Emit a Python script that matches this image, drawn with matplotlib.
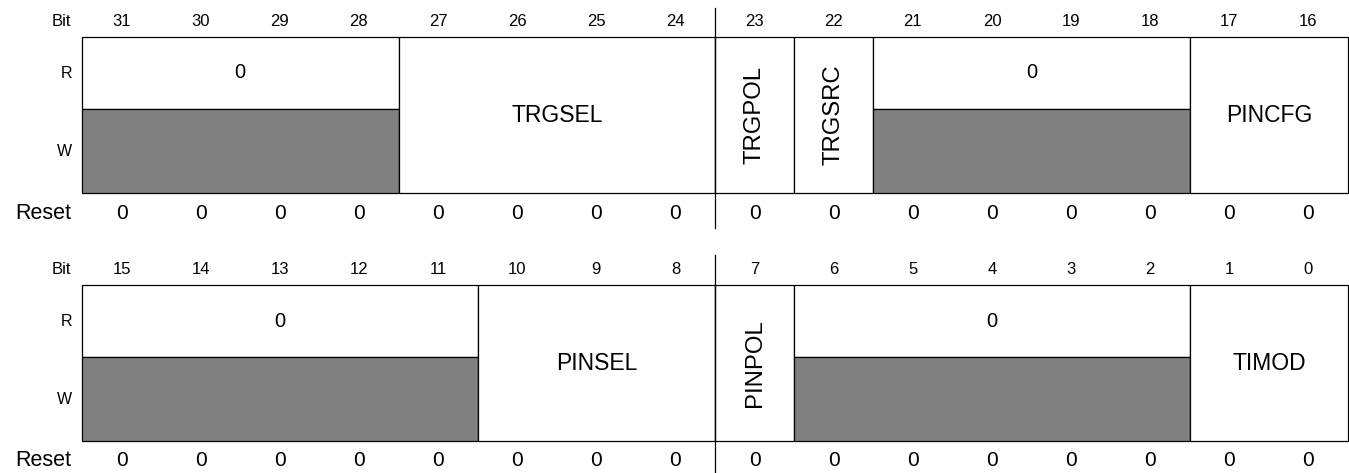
import matplotlib.pyplot as plt
import matplotlib.patches as mpatches

plt.rcParams['font.family'] = ['Liberation Sans', 'DejaVu Sans']

# register fields: (high bit, low bit, name, vertical, reserved)
fields_hi = [
    (31, 28, '0', False, True),
    (27, 24, 'TRGSEL', False, False),
    (23, 23, 'TRGPOL', True, False),
    (22, 22, 'TRGSRC', True, False),
    (21, 18, '0', False, True),
    (17, 16, 'PINCFG', False, False),
]
fields_lo = [
    (15, 11, '0', False, True),
    (10, 8, 'PINSEL', False, False),
    (7, 7, 'PINPOL', True, False),
    (6, 2, '0', False, True),
    (1, 0, 'TIMOD', False, False),
]
reset_hi = [0] * 16
reset_lo = [0] * 16

W, H = 1349, 473
col_w = 79.125
x0 = 82
gray = '#808080'
lw = 0.9

fig = plt.figure(figsize=(W / 100, H / 100), dpi=100)
ax = fig.add_axes([0, 0, 1, 1])
ax.set_xlim(0, W)
ax.set_ylim(H, 0)
ax.axis('off')


def draw_register(fields, reset, top_bit, y_bit, y_top, y_mid, y_bot, y_reset, div_y0, div_y1):
    # row labels
    ax.text(71, y_bit, 'Bit', ha='right', va='center', fontsize=12)
    ax.text(72, (y_top + y_mid) / 2, 'R', ha='right', va='center', fontsize=11.5)
    ax.text(72, (y_mid + y_bot) / 2, 'W', ha='right', va='center', fontsize=11.5)
    ax.text(71, y_reset, 'Reset', ha='right', va='center', fontsize=15.5)

    for i in range(16):
        cx = x0 + (i + 0.5) * col_w
        ax.text(cx, y_bit, str(top_bit - i), ha='center', va='center', fontsize=12)
        ax.text(cx, y_reset, str(reset[i]), ha='center', va='center', fontsize=15)

    for hi, lo, name, vert, rsv in fields:
        left = x0 + (top_bit - hi) * col_w
        width = (hi - lo + 1) * col_w
        cx = left + width / 2
        if rsv:
            ax.add_patch(mpatches.Rectangle((left, y_top), width, y_mid - y_top,
                                            facecolor='white', edgecolor='black', lw=lw))
            ax.add_patch(mpatches.Rectangle((left, y_mid), width, y_bot - y_mid,
                                            facecolor=gray, edgecolor='black', lw=lw))
            ax.text(cx, (y_top + y_mid) / 2, name, ha='center', va='center', fontsize=14.5)
        elif vert:
            ax.add_patch(mpatches.Rectangle((left, y_top), width, y_bot - y_top,
                                            facecolor='white', edgecolor='black', lw=lw))
            ax.text(cx, (y_top + y_bot) / 2, name, ha='center', va='center',
                    fontsize=17.2, rotation=90)
        else:
            ax.add_patch(mpatches.Rectangle((left, y_top), width, y_bot - y_top,
                                            facecolor='white', edgecolor='black', lw=lw))
            ax.text(cx, (y_top + y_bot) / 2, name, ha='center', va='center', fontsize=16.5)

    # byte divider
    xd = x0 + 8 * col_w
    ax.plot([xd, xd], [div_y0, div_y1], color='black', lw=lw)


draw_register(fields_hi, reset_hi, 31, 21, 37, 109, 193, 213, 8, 228)
draw_register(fields_lo, reset_lo, 15, 269, 285, 357, 441, 460, 255, 473)

fig.savefig('out.png', dpi=100)
